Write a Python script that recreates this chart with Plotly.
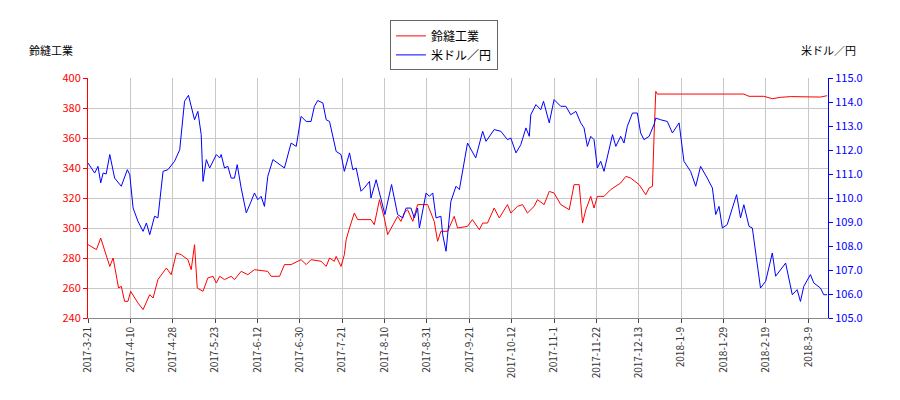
import plotly.graph_objects as go

tick_labels = ["2017-3-21","2017-4-10","2017-4-28","2017-5-23","2017-6-12","2017-6-30","2017-7-21",
               "2017-8-10","2017-8-31","2017-9-21","2017-10-12","2017-11-1","2017-11-22","2017-12-13",
               "2018-1-9","2018-1-29","2018-2-19","2018-3-9"]
tick_pos = [i * 14 for i in range(len(tick_labels))]

usd_idx = [0,1.1,2.2,3.3,4.2,5,6,7.2,8.8,11,13,13.8,14.9,16.5,18.2,19.3,20.4,22,23.1,24.8,26.4,28.6,30.3,31.9,33.2,35.2,36.3,37.4,38,39.1,40.2,42.4,43.5,44,45.1,46.2,47.3,48.4,49.3,50.6,52.3,53.9,55,56.1,57.2,58.3,59.4,61.1,64.9,67.1,68.8,70.4,72.1,73.7,74.8,75.9,77.6,78.7,79.8,82,83.6,84.7,86.4,87.5,88.6,90.2,91.3,93,93.5,95.2,96.8,98.1,100.3,102.3,104,105.1,106.7,107.8,108.9,109.5,111.7,112.8,113.9,115,116.6,117.2,118.3,119.9,121.6,122.7,125.4,
           128.1,130.4,131.5,134.2,136.4,138.6,139.7,141.4,143,144.7,145.8,146.3,148,149.6,150.5,152.4,154,156.2,157.9,159.5,161.2,162.8,163.9,165,166.1,167.2,168.3,169.4,170.5,173.3,174.4,176,177.1,178.2,179.9,181.5,182.6,183.7,185.4,187,187.6,189.2,191.4,193.1,195.3,196.9,199.1,200.8,202.4,204.6,206.3,207.4,208.5,209.6,211.2,212.9,214.3,215.6,216.7,218.4,219.5,222.2,223.9,226.1,227.2,230.5,232.7,234.3,235.4,236.5,238.7,239.8,242,243.1,244.2]
usd_val = [111.46,111.25,111.04,111.32,110.63,111.04,111.0,111.81,110.83,110.49,111.18,110.97,109.58,109.03,108.61,108.96,108.47,109.24,109.17,111.11,111.18,111.53,112.01,114.03,114.28,113.26,113.61,112.64,110.69,111.6,111.25,111.81,111.67,111.81,111.25,111.32,110.83,110.83,111.39,110.42,109.38,109.86,110.21,109.93,110.07,109.65,110.9,111.6,111.25,112.29,112.15,113.4,113.19,113.19,113.82,114.06,113.96,113.26,113.19,111.94,111.81,111.11,111.88,111.18,111.25,110.28,110.42,110.69,110.0,110.76,110.0,109.31,110.56,109.31,109.17,109.58,109.58,109.17,109.58,108.75,110.21,110.07,110.21,109.17,109.24,108.47,107.78,109.86,110.49,110.35,112.29,
           111.67,112.78,112.36,112.85,112.78,112.43,112.5,111.88,112.22,112.92,112.57,113.47,113.89,113.68,114.03,113.13,114.1,113.82,113.82,113.47,113.61,113.13,112.92,112.15,112.57,112.43,111.25,111.53,111.11,112.64,112.15,112.57,112.29,112.99,113.54,113.54,112.71,112.43,112.57,113.06,113.33,113.26,113.19,112.71,113.13,111.53,111.11,110.49,111.32,110.83,110.42,109.31,109.65,108.75,108.89,109.58,110.14,109.17,109.72,108.82,108.75,106.25,106.53,107.71,106.74,107.29,105.97,106.18,105.69,106.32,106.81,106.46,106.25,105.97,105.97]

stock_idx = [0,1.1,2.8,4.2,5.5,7.2,8.3,10.1,11,12.1,13.2,14.1,16.5,18.2,20.4,21.5,23.1,25.9,27.5,29.2,30.8,33,34.1,35.2,36.1,38,39.6,41.3,42.4,43.5,45.1,47.3,48.4,50.6,52.8,55,59.4,60.5,63.3,64.9,67.1,70.4,72.1,73.7,77,78.7,79.8,81.4,82,83.6,84.7,85.3,86.4,88,89.1,93.5,94.6,96.3,97.9,99,102.3,103.4,104.5,105.6,107.3,108.9,112.2,114.4,115.5,116.6,118.8,121,122.1,125.4,
             127,129.3,130.4,132,134.2,135.9,138.6,139.7,141.9,143.6,145.2,147.4,148.5,150.7,152.4,154,156.2,159,160.6,162.3,163.4,164.5,166.1,167.2,168.3,170.5,172.7,176,177.7,179.3,182.1,184.3,185.4,186.5,187,187.6,188.1,216.7,218.4,223.3,226.1,228.8,232.1,237.6,242,244.2]
stock_val = [288.9,287.8,285.6,293.3,285.6,274.4,280,260,261.1,251.1,251.1,257.8,250,245.6,255.6,253.3,265.6,273.3,268.9,283.3,282.2,278.9,272.2,288.9,260,257.8,266.7,267.8,263.3,267.8,265.6,267.8,265.6,271.1,268.9,272.2,271.1,267.8,267.8,275.6,275.6,278.9,275.6,278.9,277.8,274.4,280,277.8,281.1,274.4,282.2,292.2,300,310,305.6,305.6,302.2,318.9,306.7,295.6,307.8,304.4,310,312.2,304.4,315.6,315.6,304.4,291.1,297.8,297.8,307.8,300,301.1,
             305.6,298.9,303.3,303.3,313.3,306.7,315.6,310,314.4,315.6,310,314.4,318.9,315.6,324.4,323.3,315.6,312.2,328.9,328.9,303.3,312.2,321.1,313.3,321.1,321.1,325.6,330,334.4,333.3,328.9,322.2,326.7,327.8,360,391.1,389.3,389.3,387.8,387.8,386.2,387.1,387.6,387.3,387.3,388.2]

font = "Noto Sans CJK JP"
fig = go.Figure()
fig.add_trace(go.Scatter(x=stock_idx, y=stock_val, mode="lines", name="鈴縫工業",
                         line=dict(color="#ff0000", width=1)))
fig.add_trace(go.Scatter(x=usd_idx, y=usd_val, mode="lines", name="米ドル／円", yaxis="y2",
                         line=dict(color="#0000ff", width=1)))
fig.update_layout(
    width=900, height=400, margin=dict(l=80, r=80, t=70, b=90, autoexpand=False),
    plot_bgcolor="white", paper_bgcolor="white",
    font=dict(family=font, size=11, color="#333"),
    showlegend=True,
    legend=dict(x=0.481, y=1.24, xanchor="center", yanchor="top", bordercolor="#666", borderwidth=1,
                bgcolor="white", font=dict(size=12, color="#000"), tracegroupgap=0),
    xaxis=dict(range=[0, 244.5], tickmode="array", tickvals=tick_pos, ticktext=tick_labels,
               tickangle=-90, showgrid=True, gridcolor="#c8c8c8", ticks="outside", ticklen=4,
               showline=True, linecolor="#888", zeroline=False, tickfont=dict(size=10, color="#333")),
    yaxis=dict(range=[240, 400], dtick=20, showgrid=True, gridcolor="#c8c8c8", ticks="outside", ticklen=4,
               showline=True, linecolor="#ff0000", tickcolor="#ff0000", zeroline=False,
               tickfont=dict(color="#ff0000", size=11)),
    yaxis2=dict(range=[105, 115], dtick=1, tickformat=".1f", overlaying="y", side="right", showgrid=False,
                ticks="outside", ticklen=4, showline=True, linecolor="#0000ff", tickcolor="#0000ff",
                zeroline=False, tickfont=dict(color="#0000ff", size=11)),
    annotations=[
        dict(text="鈴縫工業", xref="paper", yref="paper", x=-0.083, y=1.075, xanchor="left", yanchor="bottom",
             showarrow=False, font=dict(size=11, color="#000")),
        dict(text="米ドル／円", xref="paper", yref="paper", x=1.04, y=1.075, xanchor="right", yanchor="bottom",
             showarrow=False, font=dict(size=11, color="#000")),
    ],
)
fig.write_html("out.html")
